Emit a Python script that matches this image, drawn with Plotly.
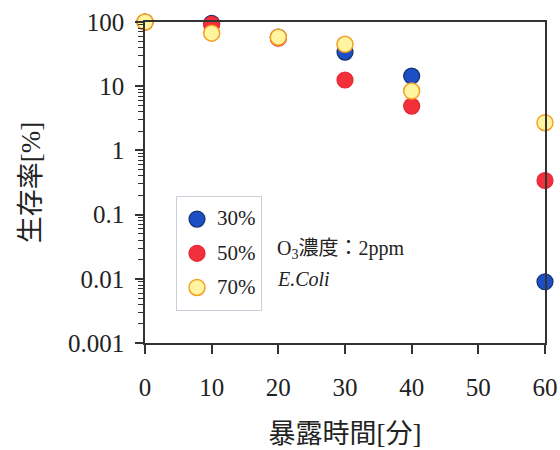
import plotly.graph_objects as go

time_min = [0, 10, 20, 30, 40, 60]
surv_30 = [100, 95, 58, 34, 14.4, 0.009]
surv_50 = [100, 92, 56, 12.5, 4.9, 0.34]
surv_70 = [100, 67, 58, 45, 8.4, 2.7]
series_names = ["30%", "50%", "70%"]
y_tickvals = [0.001, 0.01, 0.1, 1, 10, 100]
y_ticktext = ["0.001", "0.01", "0.1", "1", "10", "100"]
x_tickvals = [0, 10, 20, 30, 40, 50, 60]

FONT = "Liberation Serif, Noto Sans CJK JP, serif"
styles = [
    dict(color="#1c4fc4", line=dict(color="#14306e", width=1.2)),
    dict(color="#f2303c", line=dict(color="#e42634", width=1.2)),
    dict(color="#fff4a0", line=dict(color="#f4a024", width=1.5)),
]

fig = go.Figure()
for name, vals, st in zip(series_names, [surv_30, surv_50, surv_70], styles):
    fig.add_trace(go.Scatter(
        x=time_min, y=vals, mode="markers",
        name="<span style='font-size:21px;baseline-shift:3px'>" + name + "</span>",
        marker=dict(size=16, **st), cliponaxis=False,
    ))

fig.update_layout(
    width=560, height=450,
    margin=dict(l=145, r=15, t=22, b=107),
    paper_bgcolor="white", plot_bgcolor="white",
    font=dict(family=FONT, color="#222"),
    showlegend=True,
    legend=dict(
        x=0.0775, y=0.458, xanchor="left", yanchor="top",
        bordercolor="#c9d0da", borderwidth=1, bgcolor="white",
        font=dict(size=24, family=FONT, color="#222"),
        itemwidth=30, tracegroupgap=0,
    ),
    xaxis=dict(
        range=[0, 60], tickvals=x_tickvals, ticks="outside", ticklen=9,
        tickwidth=1.5, tickcolor="#333", showline=True, linecolor="#333",
        linewidth=1.5, mirror=True, showgrid=False, zeroline=False,
        automargin=False,
        tickfont=dict(size=25, family=FONT, color="#222"),
        ticklabelstandoff=12,
        title=dict(text="暴露時間[分]", font=dict(size=27, family=FONT, color="#222"), standoff=24),
    ),
    yaxis=dict(
        type="log", range=[-3, 2], tickvals=y_tickvals, ticktext=y_ticktext,
        ticks="outside", ticklen=8, tickwidth=1.5, tickcolor="#333",
        minor=dict(ticks="outside", ticklen=5, tickwidth=1, tickcolor="#333",
                   dtick="D1", showgrid=False),
        showline=True, linecolor="#333", linewidth=1.5, mirror=True,
        showgrid=False, zeroline=False, automargin=False,
        tickfont=dict(size=25, family=FONT, color="#222"),
        ticklabelstandoff=6,
        title=dict(text="生存率[%]", font=dict(size=27, family=FONT, color="#222"), standoff=20),
    ),
    annotations=[
        dict(x=0.325, y=0.29, xref="paper", yref="paper", xanchor="left", yanchor="middle",
             text="O<sub>3</sub>濃度：2ppm", showarrow=False,
             font=dict(size=20, family=FONT, color="#222")),
        dict(x=0.325, y=0.20, xref="paper", yref="paper", xanchor="left", yanchor="middle",
             text="<i>E.Coli</i>", showarrow=False,
             font=dict(size=20, family=FONT, color="#222")),
    ],
)

fig.write_html("out.html")
